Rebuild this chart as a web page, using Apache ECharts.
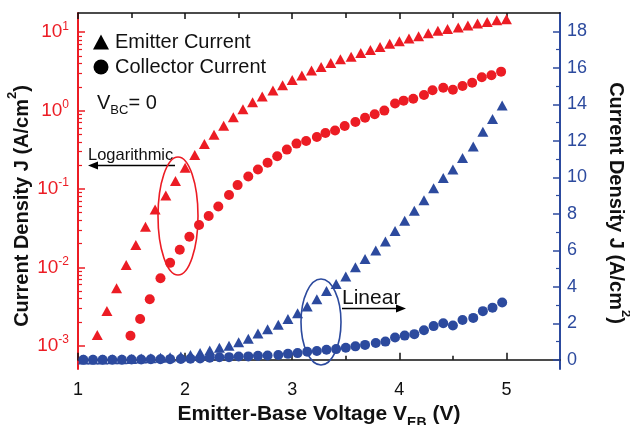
<!DOCTYPE html>
<html>
<head>
<meta charset="utf-8">
<script src="https://cdn.jsdelivr.net/npm/echarts@6/dist/echarts.min.js"></script>
<style>
html,body{margin:0;padding:0;background:#fff;}
#c{width:630px;height:425px;}
</style>
</head>
<body>
<div id="c"></div>
<script>
// ---- data ----
const redTriV = [1.18,1.27,1.36,1.45,1.54,1.63,1.72,1.82,1.91,2.00,2.09,2.18,2.27,2.36,2.45,2.54,2.63,2.72,2.82,2.91,3.00,3.09,3.18,3.27,3.36,3.45,3.55,3.64,3.73,3.82,3.91,4.00,4.09,4.18,4.27,4.36,4.45,4.55,4.64,4.73,4.82,4.91,5.00];
const redTriJ = [0.00137,0.00277,0.0054,0.0107,0.0193,0.033,0.0547,0.0826,0.126,0.187,0.272,0.375,0.493,0.643,0.824,1.04,1.28,1.51,1.81,2.11,2.46,2.81,3.24,3.61,4.06,4.52,4.88,5.44,5.94,6.49,7.15,7.68,8.33,8.92,9.71,10.45,11.0,11.5,12.2,12.9,13.5,14.2,14.7];
const redCirV = [1.49,1.58,1.67,1.77,1.86,1.95,2.04,2.13,2.22,2.31,2.41,2.49,2.59,2.68,2.77,2.86,2.95,3.04,3.13,3.23,3.31,3.40,3.49,3.59,3.68,3.77,3.86,3.96,4.04,4.13,4.23,4.31,4.41,4.50,4.59,4.68,4.77,4.86,4.95];
const redCirJ = [0.00134,0.00219,0.00392,0.00724,0.0114,0.0168,0.0246,0.0347,0.0452,0.0598,0.0838,0.112,0.144,0.177,0.216,0.262,0.318,0.379,0.410,0.461,0.519,0.558,0.637,0.716,0.811,0.898,1.00,1.23,1.34,1.42,1.58,1.82,1.96,1.85,2.06,2.27,2.67,2.83,3.14];
const blueV = [1.05,1.14,1.23,1.32,1.41,1.50,1.59,1.68,1.77,1.86,1.96,2.05,2.14,2.23,2.32,2.41,2.50,2.59,2.68,2.77,2.87,2.96,3.05,3.14,3.23,3.32,3.41,3.50,3.59,3.68,3.78,3.87,3.96,4.05,4.14,4.23,4.32,4.41,4.50,4.59,4.69,4.78,4.87,4.96];
const blueTriJ = [0.02,0.02,0.02,0.04,0.04,0.05,0.07,0.09,0.11,0.14,0.18,0.27,0.37,0.52,0.67,0.78,0.96,1.16,1.44,1.68,1.92,2.24,2.56,2.92,3.32,3.77,4.16,4.57,5.07,5.52,5.99,6.49,7.06,7.62,8.17,8.74,9.40,9.96,10.43,11.06,11.69,12.50,13.20,13.94];
const blueCirJ = [0.00,0.00,0.01,0.01,0.01,0.02,0.02,0.03,0.03,0.04,0.05,0.06,0.08,0.12,0.14,0.15,0.18,0.19,0.22,0.24,0.27,0.33,0.37,0.44,0.49,0.55,0.59,0.66,0.74,0.82,0.92,1.00,1.23,1.33,1.41,1.62,1.85,2.01,1.88,2.18,2.30,2.67,2.86,3.14];

const xTicks = [1,2,3,4,5];
const xMinorTicks = [1.5,2.5,3.5,4.5];
const logTicks = [0.001,0.01,0.1,1,10];
const logMinorTicks = [0.002,0.003,0.004,0.005,0.006,0.007,0.008,0.009,0.02,0.03,0.04,0.05,0.06,0.07,0.08,0.09,0.2,0.3,0.4,0.5,0.6,0.7,0.8,0.9,2,3,4,5,6,7,8,9];
const linTicks = [0,2,4,6,8,10,12,14,16,18];
const linMinorTicks = [1,3,5,7,9,11,13,15,17];

const RED = '#ec1c24', BLUE = '#2c4a9e', BLACK = '#111';
const FONT = '"Liberation Sans", Arial, sans-serif';

const zip = (a, b) => a.map((v, i) => [v, b[i]]);
const gridBox = {left: 78, right: 70, top: 13, bottom: 56, containLabel: false, outerBoundsMode: 'none'};

const yTitleRich = {
  t: {fontSize: 20, fontWeight: 'bold', color: BLACK, fontFamily: FONT, lineHeight: 26, verticalAlign: 'bottom'},
  s: {fontSize: 13, fontWeight: 'bold', color: BLACK, fontFamily: FONT, lineHeight: 13, verticalAlign: 'top'}
};

const chart = echarts.init(document.getElementById('c'), null, {renderer: 'canvas'});
chart.setOption({
  animation: false,
  backgroundColor: '#fff',
  textStyle: {fontFamily: FONT},
  grid: [Object.assign({}, gridBox), Object.assign({}, gridBox)],
  xAxis: [
    {
      gridIndex: 0, type: 'value', position: 'bottom', min: 1, max: 5.5,
      axisLine: {lineStyle: {color: BLACK, width: 1.5}},
      axisTick: {inside: true, length: 7, customValues: xTicks, lineStyle: {color: BLACK, width: 1.5}},
      axisLabel: {customValues: xTicks, color: BLACK, fontSize: 18, margin: 12, fontFamily: FONT},
      splitLine: {show: false},
      name: '{t|Emitter-Base Voltage V}{s|EB}{t| (V)}',
      nameLocation: 'middle', nameGap: 32,
      nameTextStyle: {
        rich: {
          t: {fontSize: 21, fontWeight: 'bold', color: BLACK, fontFamily: FONT, lineHeight: 26, verticalAlign: 'top'},
          s: {fontSize: 14, fontWeight: 'bold', color: BLACK, fontFamily: FONT, lineHeight: 14, verticalAlign: 'bottom'}
        }
      }
    },
    {
      gridIndex: 0, type: 'value', position: 'top', min: 1, max: 5.5,
      axisLine: {lineStyle: {color: BLACK, width: 1.5}},
      axisTick: {inside: true, length: 6, customValues: xTicks, lineStyle: {color: BLACK, width: 1.5}},
      axisLabel: {show: false}, splitLine: {show: false}
    },
    {
      gridIndex: 1, type: 'value', position: 'bottom', min: 1, max: 5.5,
      axisLine: {show: false},
      axisTick: {inside: true, length: 4, customValues: xMinorTicks, lineStyle: {color: BLACK, width: 1.5}},
      axisLabel: {show: false}, splitLine: {show: false}
    },
    {
      gridIndex: 1, type: 'value', position: 'top', min: 1, max: 5.5,
      axisLine: {show: false},
      axisTick: {inside: true, length: 5, customValues: xMinorTicks, lineStyle: {color: BLACK, width: 1.5}},
      axisLabel: {show: false}, splitLine: {show: false}
    }
  ],
  yAxis: [
    {
      gridIndex: 0, type: 'log', logBase: 10, position: 'left', min: 0.000504, max: 17.6,
      axisLine: {lineStyle: {color: RED, width: 2}},
      axisTick: {inside: true, length: 7, customValues: logTicks, lineStyle: {color: RED, width: 1.5}},
      axisLabel: {
        customValues: logTicks, margin: 9,
        formatter: v => '{b|10}{s|' + Math.round(Math.log10(v)) + '}',
        rich: {
          b: {fontSize: 19, color: RED, fontFamily: FONT, lineHeight: 24},
          s: {fontSize: 12, color: RED, fontFamily: FONT, lineHeight: 12, verticalAlign: 'top'}
        }
      },
      splitLine: {show: false},
      name: '{t|Current Density J (A/cm}{s|2}{t|)}',
      nameLocation: 'middle', nameGap: 46, nameMoveOverlap: false,
      nameTextStyle: {padding: [0, 30, 0, 0], rich: yTitleRich}
    },
    {
      gridIndex: 0, type: 'value', position: 'right', min: -0.5, max: 19,
      axisLine: {lineStyle: {color: BLUE, width: 2}},
      axisTick: {inside: true, length: 7, customValues: linTicks, lineStyle: {color: BLUE, width: 1.5}},
      axisLabel: {customValues: linTicks, color: BLUE, fontSize: 18, margin: 7, fontFamily: FONT},
      splitLine: {show: false},
      name: '{t|Current Density J (A/cm}{s|2}{t|)}',
      nameLocation: 'middle', nameGap: 46, nameRotate: -90,
      nameTextStyle: {padding: [0, 0, 0, 24], rich: yTitleRich}
    },
    {
      gridIndex: 1, type: 'log', logBase: 10, position: 'left', min: 0.000504, max: 17.6,
      axisLine: {show: false},
      axisTick: {inside: true, length: 4, customValues: logMinorTicks, lineStyle: {color: RED, width: 1.2}},
      axisLabel: {show: false}, splitLine: {show: false}
    },
    {
      gridIndex: 1, type: 'value', position: 'right', min: -0.5, max: 19,
      axisLine: {show: false},
      axisTick: {inside: true, length: 4, customValues: linMinorTicks, lineStyle: {color: BLUE, width: 1.2}},
      axisLabel: {show: false}, splitLine: {show: false}
    }
  ],
  legend: {
    orient: 'vertical', left: 88, top: 27, itemWidth: 16, itemHeight: 15, itemGap: 5,
    selectedMode: false,
    textStyle: {fontSize: 20, color: BLACK, fontFamily: FONT, padding: [0, 0, 0, 1]},
    data: [
      {name: 'Emitter Current', icon: 'triangle', itemStyle: {color: '#000'}},
      {name: 'Collector Current', icon: 'circle', itemStyle: {color: '#000'}}
    ]
  },
  series: [
    {name: 'Emitter Current', type: 'scatter', xAxisIndex: 0, yAxisIndex: 1, symbol: 'triangle', symbolSize: [11, 10], itemStyle: {color: BLUE, opacity: 1}, data: zip(blueV, blueTriJ)},
    {name: 'Collector Current', type: 'scatter', xAxisIndex: 0, yAxisIndex: 1, symbol: 'circle', symbolSize: 10, itemStyle: {color: BLUE, opacity: 1}, data: zip(blueV, blueCirJ)},
    {name: 'Emitter Current', type: 'scatter', xAxisIndex: 0, yAxisIndex: 0, symbol: 'triangle', symbolSize: [11, 10], itemStyle: {color: RED, opacity: 1}, data: zip(redTriV, redTriJ)},
    {name: 'Collector Current', type: 'scatter', xAxisIndex: 0, yAxisIndex: 0, symbol: 'circle', symbolSize: 10, itemStyle: {color: RED, opacity: 1}, data: zip(redCirV, redCirJ)}
  ],
  graphic: [
    {type: 'text', x: 97, y: 105, z: 10, style: {
      text: '{v|V}{s|BC}{v|= 0}', verticalAlign: 'middle', align: 'left',
      rich: {
        v: {fontSize: 20, fill: BLACK, fontFamily: FONT, lineHeight: 24, verticalAlign: 'top'},
        s: {fontSize: 13, fill: BLACK, fontFamily: FONT, lineHeight: 13, verticalAlign: 'bottom'}
      }}},
    {type: 'text', x: 88, y: 155, z: 10, style: {text: 'Logarithmic', fontSize: 16.5, fill: BLACK, fontFamily: FONT, align: 'left', verticalAlign: 'middle'}},
    {type: 'line', z: 10, shape: {x1: 96, y1: 165.5, x2: 175, y2: 165.5}, style: {stroke: '#000', lineWidth: 1.5}},
    {type: 'polygon', z: 10, shape: {points: [[88, 165.5], [98, 161.5], [98, 169.5]]}, style: {fill: '#000'}},
    {type: 'ellipse', z: 10, shape: {cx: 178, cy: 216, rx: 20, ry: 59}, style: {fill: 'transparent', stroke: RED, lineWidth: 1.6}},
    {type: 'ellipse', z: 10, shape: {cx: 321, cy: 322, rx: 20, ry: 43}, style: {fill: 'transparent', stroke: BLUE, lineWidth: 1.6}},
    {type: 'text', x: 342, y: 298, z: 10, style: {text: 'Linear', fontSize: 21, fill: BLACK, fontFamily: FONT, align: 'left', verticalAlign: 'middle'}},
    {type: 'line', z: 10, shape: {x1: 342, y1: 308.5, x2: 398, y2: 308.5}, style: {stroke: '#000', lineWidth: 1.5}},
    {type: 'polygon', z: 10, shape: {points: [[406, 308.5], [396, 304.5], [396, 312.5]]}, style: {fill: '#000'}}
  ]
});
</script>
</body>
</html>
